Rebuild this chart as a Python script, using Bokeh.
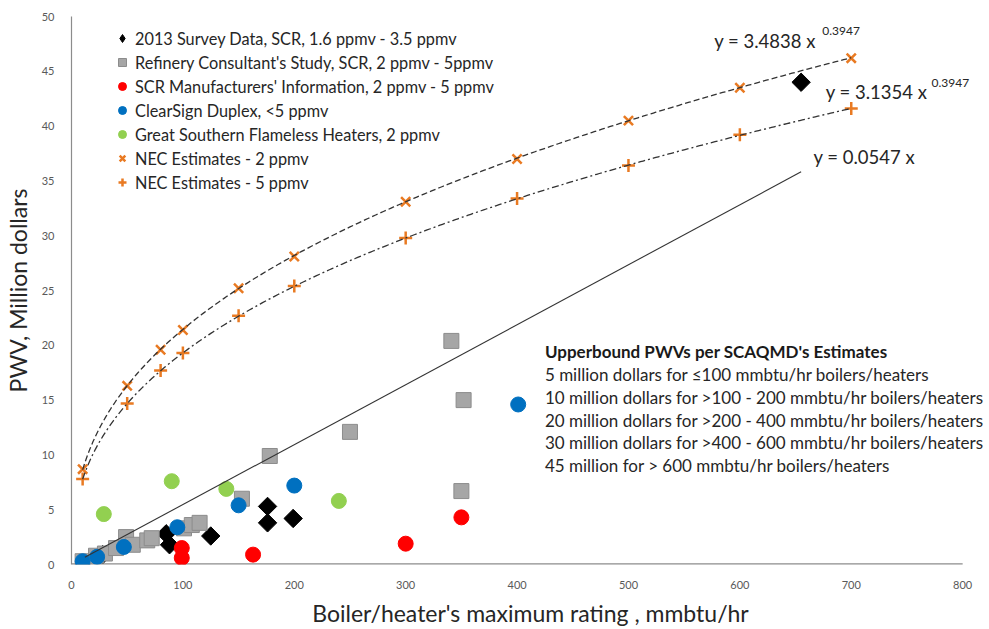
import numpy as np
from bokeh.plotting import figure
from bokeh.models import Range1d, Legend, LegendItem, Label, FixedTicker
from bokeh.embed import file_html
from bokeh.resources import INLINE

# ---------------- data ----------------
survey_x = [28, 85, 88, 125, 176, 176, 199, 655]
survey_y = [0.9, 2.8, 1.8, 2.6, 5.3, 3.8, 4.2, 44.0]

refinery_x = [10, 22, 30, 40, 49, 55, 68, 72, 101, 108, 115, 153, 178, 250, 341, 352, 350]
refinery_y = [0.3, 0.8, 1.0, 1.5, 2.5, 1.8, 2.2, 2.4, 3.3, 3.6, 3.8, 6.0, 9.9, 12.1, 20.4, 15.0, 6.7]

scr_x = [99, 99, 163, 300, 350]
scr_y = [1.5, 0.6, 0.9, 1.9, 4.3]

clearsign_x = [10, 23, 47, 95, 150, 200, 401]
clearsign_y = [0.3, 0.7, 1.6, 3.4, 5.4, 7.2, 14.6]

gsouth_x = [29, 90, 139, 240]
gsouth_y = [4.6, 7.6, 6.9, 5.8]

nec_x = [10, 50, 80, 100, 150, 200, 300, 400, 500, 600, 700]
nec2_y = [8.7, 16.3, 19.6, 21.4, 25.2, 28.1, 33.1, 37.0, 40.5, 43.5, 46.2]
nec5_y = [7.8, 14.7, 17.7, 19.3, 22.7, 25.4, 29.8, 33.4, 36.4, 39.2, 41.6]

# trendline equations printed on the chart
fit2_a, fit2_b = 3.4838, 0.3947
fit5_a, fit5_b = 3.1354, 0.3947
lin_m = 0.0547
lin_x = [12, 655]

x_ticks = list(range(0, 801, 100))
y_ticks = list(range(0, 51, 5))
x_max, y_max = 800, 50

legend_labels = [
    "2013 Survey Data, SCR, 1.6 ppmv - 3.5 ppmv",
    "Refinery Consultant's Study, SCR, 2 ppmv - 5ppmv",
    "SCR Manufacturers' Information, 2 ppmv - 5 ppmv",
    "ClearSign Duplex, <5 ppmv",
    "Great Southern Flameless Heaters, 2 ppmv",
    "NEC Estimates - 2 ppmv",
    "NEC Estimates - 5 ppmv",
]

note_title = "Upperbound PWVs per SCAQMD's Estimates"
note_lines = [
    "5 million dollars for  \u2264100 mmbtu/hr boilers/heaters",
    "10 million dollars for >100  -  200 mmbtu/hr boilers/heaters",
    "20 million dollars for >200  -  400 mmbtu/hr boilers/heaters",
    "30 million dollars for >400  - 600 mmbtu/hr  boilers/heaters",
    "45 million for > 600 mmbtu/hr  boilers/heaters",
]

FONT = "Lato"
ORANGE = "#E97A22"
AXIS_GRAY = "#8C8C8C"

# frame spans 66..989 px; axis 0..800 occupies 66..962 px, text may run past 800
p = figure(width=989, height=629, x_range=Range1d(0, x_max * 923 / 896), y_range=Range1d(0, y_max),
           output_backend="svg", toolbar_location=None,
           min_border_left=66, min_border_right=0, min_border_top=16, min_border_bottom=63)
p.grid.visible = False
p.outline_line_color = None
p.background_fill_color = "white"
p.border_fill_color = "white"

p.xaxis.ticker = FixedTicker(ticks=x_ticks)
p.yaxis.ticker = FixedTicker(ticks=y_ticks)
for ax in (p.xaxis[0], p.yaxis[0]):
    ax.axis_line_color = AXIS_GRAY
    ax.axis_line_width = 1.2
    ax.major_tick_line_color = None
    ax.minor_tick_line_color = None
    ax.major_label_text_font = FONT
    ax.major_label_text_font_size = "11px"
    ax.major_label_text_color = "#595959"
    ax.axis_label_text_font = FONT
    ax.axis_label_text_font_style = "normal"
    ax.axis_label_text_font_size = "23px"
    ax.axis_label_text_color = "#262626"
p.xaxis.axis_line_color = None
p.xaxis.axis_label = "Boiler/heater's maximum rating , mmbtu/hr"
p.yaxis.axis_label = "PWV, Million dollars"
p.xaxis.major_label_standoff = 10
p.yaxis.major_label_standoff = 11
p.xaxis.axis_label_standoff = 7
p.yaxis.axis_label_standoff = 7
# x axis baseline only up to 800
p.segment(x0=[0], y0=[0], x1=[x_max], y1=[0], line_color=AXIS_GRAY, line_width=2.4)

# markers
r_survey = p.scatter(survey_x, survey_y, marker="square", angle=np.pi / 4, size=13,
                     fill_color="black", line_color="black")
# legend swatch for the rotated-square (diamond) series (draws nothing in the plot)
r_survey_key = p.scatter([np.nan], [np.nan], marker="diamond", size=14,
                         fill_color="black", line_color="black")
r_ref = p.scatter(refinery_x, refinery_y, marker="square", size=15,
                  fill_color="#A6A6A6", line_color="#8C8C8C", line_width=1)
r_scr = p.scatter(scr_x, scr_y, marker="circle", size=15, fill_color="#FF0000", line_color="#FF0000")
r_cs = p.scatter(clearsign_x, clearsign_y, marker="circle", size=15, fill_color="#0070C0", line_color="#0070C0")
r_gs = p.scatter(gsouth_x, gsouth_y, marker="circle", size=15, fill_color="#92D050", line_color="#92D050")
r_n2 = p.scatter(nec_x, nec2_y, marker="x", size=13, line_color=ORANGE, line_width=2.5)
r_n5 = p.scatter(nec_x, nec5_y, marker="cross", size=13, line_color=ORANGE, line_width=2.5)

# trendlines
xc = np.linspace(nec_x[0], nec_x[-1], 300)
p.line(xc, fit2_a * xc ** fit2_b, line_color="#333333", line_width=1.3, line_dash="6 3")
p.line(xc, fit5_a * xc ** fit5_b, line_color="#333333", line_width=1.3, line_dash="7 3 2 3")
lx = np.array(lin_x, dtype=float)
p.line(lx, lin_m * lx, line_color="#333333", line_width=1.1)

legend = Legend(items=[LegendItem(label=l, renderers=[r]) for l, r in
                       zip(legend_labels, [r_survey_key, r_ref, r_scr, r_cs, r_gs, r_n2, r_n5])],
                location=(41, 370), orientation="vertical",
                glyph_width=20, glyph_height=24, label_height=24, spacing=0,
                padding=0, margin=0, label_standoff=3,
                label_text_font=FONT, label_text_font_size="16.3px", label_text_color="#262626",
                background_fill_alpha=0, border_line_color=None)
p.add_layout(legend)

# equation labels
def eq(x, y, txt, size="18.5px"):
    p.add_layout(Label(x=x, y=y, text=txt, text_font=FONT, text_font_size=size,
                       text_color="#262626", text_baseline="middle", text_align="left"))

eq(577, 47.8, "y = 3.4838 x")
eq(674, 48.7, "0.3947", "12px")
eq(677, 43.1, "y = 3.1354 x")
eq(772, 43.9, "0.3947", "12px")
eq(666, 37.2, "y = 0.0547 x")

p.add_layout(Label(x=425, y=19.45, text=note_title, text_font=FONT, text_font_size="17px",
                   text_font_style="bold", text_color="#1a1a1a", text_baseline="middle"))
for i, t in enumerate(note_lines):
    p.add_layout(Label(x=425, y=19.45 - (i + 1) * 2.09, text=t, text_font=FONT,
                       text_font_size="17px", text_color="#262626", text_baseline="middle"))

open("out.html", "w").write(file_html(p, INLINE))
